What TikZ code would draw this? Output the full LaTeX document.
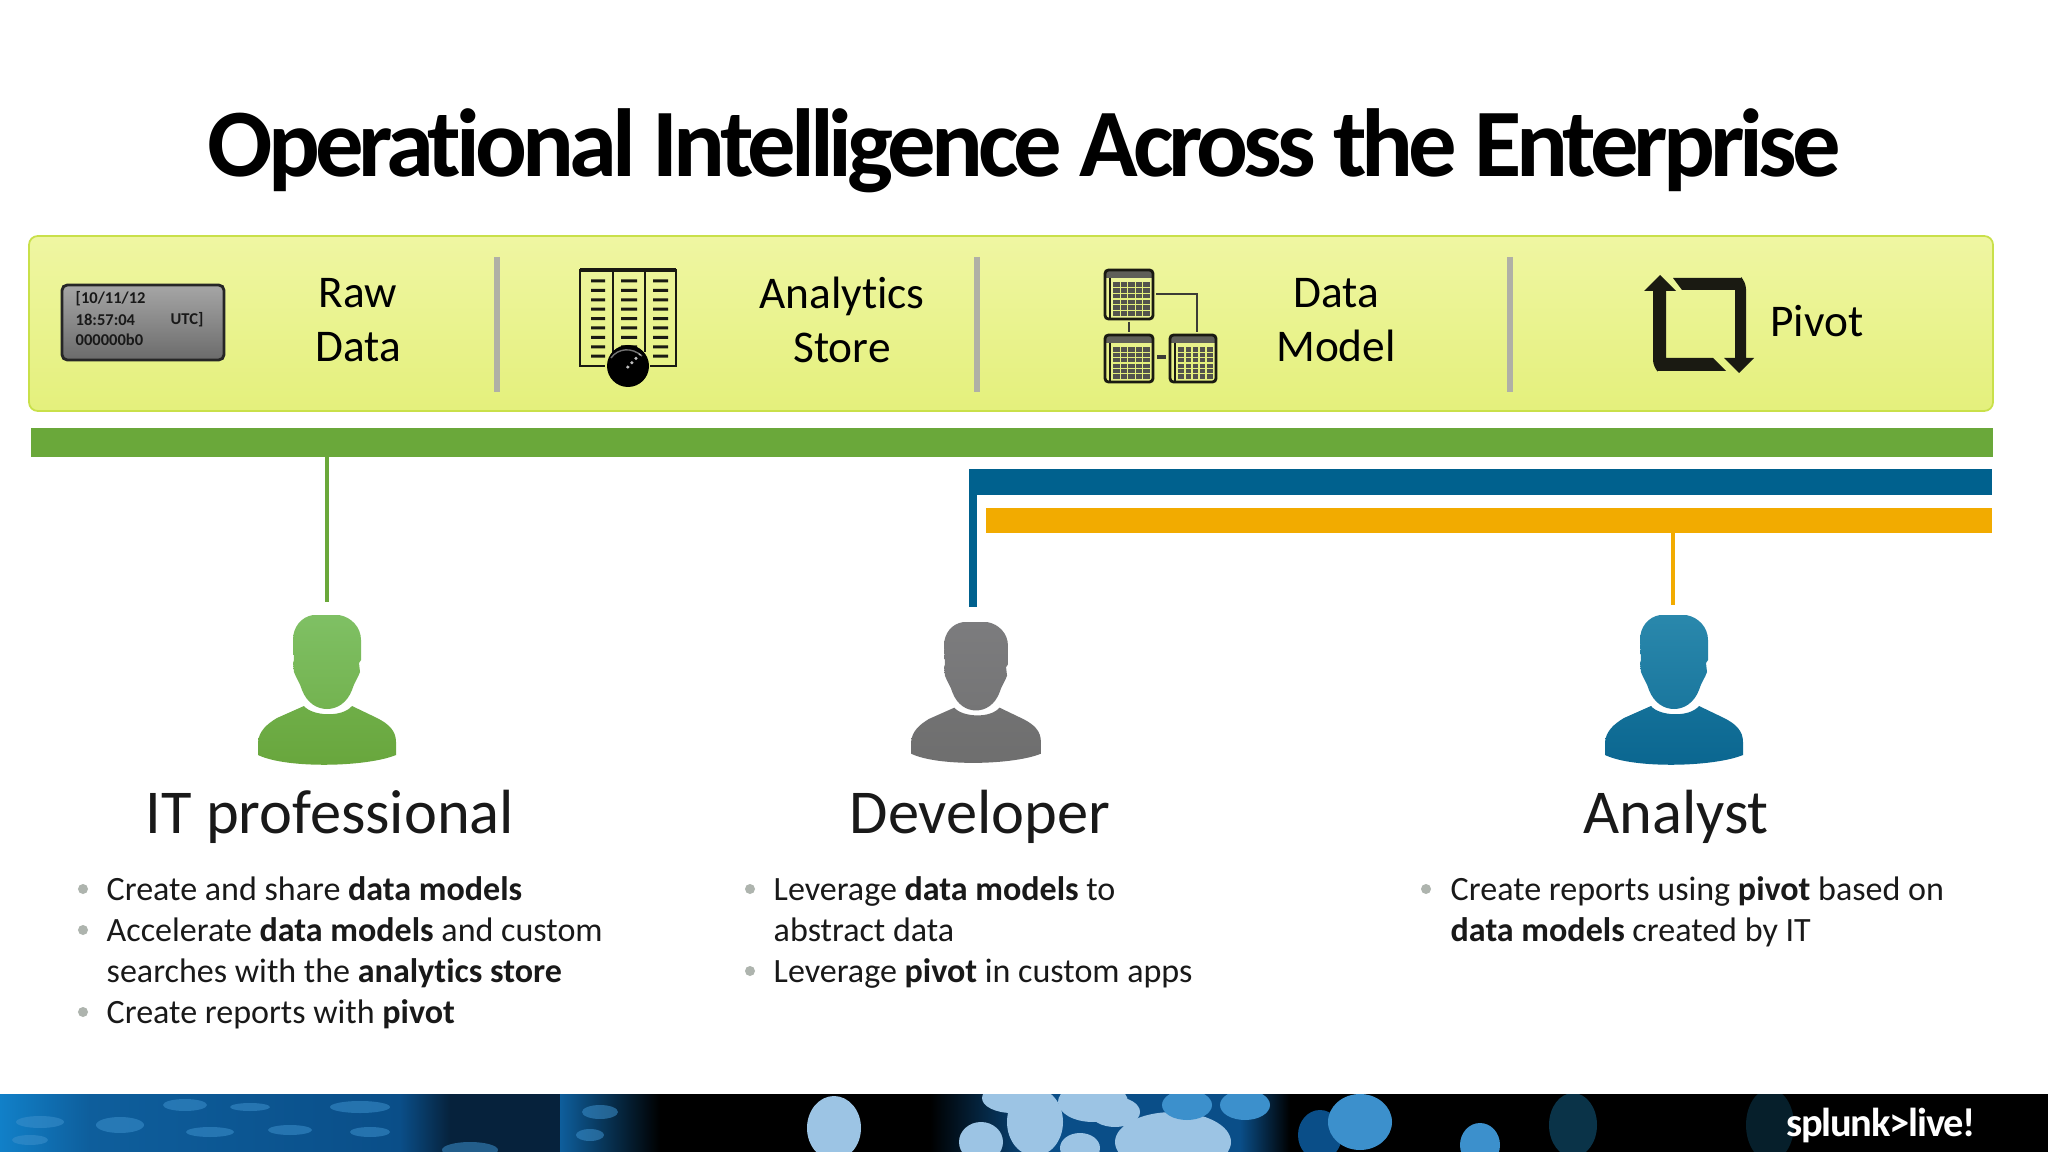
\documentclass[tikz,border=0pt]{standalone}
\usepackage{fontspec}
\setmainfont{Carlito}[Ligatures=NoCommon]
\usetikzlibrary{positioning}

\definecolor{barGreen}{HTML}{6AA83A}
\definecolor{barBlue}{HTML}{00618E}
\definecolor{barOrange}{HTML}{F2AB00}
\definecolor{divGray}{HTML}{B0B0A6}
\definecolor{panelTop}{HTML}{EFF6A2}
\definecolor{panelBot}{HTML}{E4F07C}
\definecolor{panelEdge}{HTML}{C9E04A}
\definecolor{iconBlack}{HTML}{1A1A12}
\definecolor{dotGray}{HTML}{AEB4AE}
\definecolor{itHead}{HTML}{7FC064}
\definecolor{itBody}{HTML}{68A63C}
\definecolor{devHead}{HTML}{7C7C7E}
\definecolor{devBody}{HTML}{6E6E6E}
\definecolor{anHead}{HTML}{2A88AC}
\definecolor{anBody}{HTML}{0A6690}
\definecolor{footDeep}{HTML}{06223C}
\definecolor{footBlue}{HTML}{0E5E9C}
\definecolor{footBright}{HTML}{1180C8}
\definecolor{footPale}{HTML}{9CC4E4}
\definecolor{footMid}{HTML}{3C90CC}
\definecolor{footGlow}{HTML}{0A4E88}
\definecolor{footDim}{HTML}{0A3348}

\tikzset{
    titletext/.style={font=\fontsize{27.5}{32}\bfseries\addfontfeatures{LetterSpace=-5.1}},
    steptext/.style={font=\fontsize{12.9}{11.7}\selectfont, align=center, text=black, inner sep=0},
    roletext/.style={font=\fontsize{17.75}{21}\selectfont, inner sep=0, text=black!90},
    bullettext/.style={font=\fontsize{9.68}{11.68}\selectfont, align=left, anchor=north west, inner sep=0, text=black!90},
    logtext/.style={font=\fontsize{4.7}{6}\bfseries, inner sep=0, anchor=west, text=black!90},
    bar/.style={minimum height=#1*0.01cm, inner sep=0, outer sep=0},
    divider/.style={line width=1.7pt, draw=divGray},
    link/.style={-, line width=1.15pt},
    dot/.style={circle, fill=dotGray, inner sep=0, minimum size=0.1cm},
}

% one person: x, y shift, scale, head colour, body colour
\newcommand{\person}[5]{
    \begin{scope}[shift={(#1,#2)}, scale=#3]
        \shade[top color=#4, bottom color=#4!50!#5]
            (-14,615) -- (12,615) .. controls (24,617) and (34,627) .. (34,640) -- (34,660) -- (32,663) -- (33,672)
            .. controls (31,678) and (27,683) .. (25,690) .. controls (20,703) and (10,709) .. (0,709)
            .. controls (-10,709) and (-20,703) .. (-25,690) .. controls (-27,683) and (-31,678) .. (-33,672)
            -- (-34,663) -- (-33,660) -- (-34,640) .. controls (-34,627) and (-26,617) .. (-14,615) -- cycle;
        \shade[top color=#4!30!#5, bottom color=#5]
            (-23,706) .. controls (-15,716) and (15,718) .. (25,706) -- (50,718)
            .. controls (62,724) and (69,731) .. (69,742) -- (69,755)
            .. controls (40,767) and (-40,769) .. (-69,755) -- (-69,742)
            .. controls (-68,731) and (-60,724) .. (-50,718) -- cycle;
    \end{scope}
}
% small table icon
\newcommand{\gridtable}[4]{
    \fill[iconBlack!70] (#1,#2) rectangle (#3,#2+8);
    \fill[iconBlack!75] (#1+8,#2+12) rectangle (#3-3,#4-3);
    \foreach \i in {1,...,4} \draw[panelBot, line width=.35pt] ({#1+8+\i*(#3-#1-11)/5},#2+12) -- ({#1+8+\i*(#3-#1-11)/5},#4-3);
    \foreach \i in {1,...,5} \draw[panelBot, line width=.35pt] (#1+8,{#2+12+\i*(#4-#2-15)/6}) -- (#3-3,{#2+12+\i*(#4-#2-15)/6});
    \draw[iconBlack, line width=.8pt, rounded corners=1] (#1,#2) rectangle (#3,#4);
    \draw[iconBlack, line width=.6pt] (#1+5,#2+8) -- (#1+5,#4);
}

\begin{document}
\begin{tikzpicture}[x=0.01cm, y=-0.01cm]
    \useasboundingbox (0,0) rectangle (2048,1152);
    \fill[white] (0,0) rectangle (2048,1152);

    \node[titletext](title) at (1024,151) {Operational Intelligence Across the Enterprise};

    % top panel
    \draw[panelEdge, line width=.5pt, rounded corners=2.5pt, top color=panelTop, bottom color=panelBot]
        (29,236) rectangle (1993,411);
    \draw[divider] (497,257) -- (497,392);
    \draw[divider] (977,257) -- (977,392);
    \draw[divider] (1510,257) -- (1510,392);

    \node[steptext](raw)   at (358,320)  {Raw\\[3.6pt]Data};
    \node[steptext](store) at (842,320)  {Analytics\\[3.6pt]Store};
    \node[steptext](model) at (1336,320) {Data\\[3.6pt]Model};
    \node[steptext](pivot) at (1817,321) {Pivot};

    % raw data icon
    \draw[black!85, line width=.8pt, rounded corners=1.5pt, top color=black!35, bottom color=black!58]
        (62,285) rectangle (224,360);
    \node[logtext](log1) at (75,299)  {[10/11/12};
    \node[logtext](log2) at (75,320)  {18:57:04};
    \node[logtext](log3) at (170,320) {UTC]};
    \node[logtext](log4) at (75,340)  {000000b0};

    % analytics store icon
    \draw[iconBlack, line width=.7pt] (580,270) rectangle (676,366);
    \draw[iconBlack, line width=1.2pt] (580,270) -- (676,270);
    \draw[iconBlack, line width=.8pt] (613,270) -- (613,352) (645,270) -- (645,352);
    \foreach \row in {0,...,8}
        \fill[iconBlack] (591,279.5+\row*9.4) rectangle (605,282.5+\row*9.4)
                         (621,279.5+\row*9.4) rectangle (637,282.5+\row*9.4)
                         (653,279.5+\row*9.4) rectangle (668,282.5+\row*9.4);
    \fill[panelBot] (605,360) rectangle (650,368);
    \fill[black] (628,366) circle (21);
    \draw[black!55, line width=.4pt] (611,358) .. controls (618,348) and (632,347) .. (642,356);
    \draw[black!25, line width=.7pt, densely dotted] (627,368) -- (640,354);

    % data model icon
    \gridtable{1105}{270}{1153}{319}
    \gridtable{1105}{335}{1153}{382}
    \gridtable{1170}{335}{1216}{382}
    \draw[iconBlack!85, line width=.5pt] (1156,294) -- (1197,294) -- (1197,332);
    \draw[iconBlack!85, line width=.5pt] (1129,322) -- (1129,332);
    \fill[iconBlack!85] (1157,355) rectangle (1166,359);

    % pivot icon
    \fill[iconBlack] (1660,275) -- (1676,291) -- (1666,291) -- (1666,358) -- (1713,358) -- (1726,371)
        -- (1657,371) [rounded corners=2] -- (1653,367) [sharp corners] -- (1653,291) -- (1644,291) -- cycle;
    \fill[iconBlack] (1673,278) -- (1742,278) [rounded corners=2] -- (1746,282) [sharp corners] -- (1746,358)
        -- (1754,358) -- (1739,373) -- (1724,358) -- (1735,358) -- (1735,290) -- (1682,290) -- cycle;

    % bars
    \node[bar=29, fill=barGreen, minimum width=19.60cm](greenbar) at (1012,442.5) {};
    \node[bar=26, fill=barBlue, minimum width=10.23cm](bluebar) at (1480.5,482) {};
    \node[bar=25, fill=barOrange, minimum width=10.06cm](orangebar) at (1489,520.5) {};

    \coordinate(itTop) at (327,602);
    \coordinate(devTop) at (973,607);
    \coordinate(anTop) at (1673,605);
    \path
        (greenbar.south -| itTop)
            edge [link, draw=barGreen] (itTop)
        (bluebar.south -| devTop)
            edge [-, draw=barBlue, line width=2.3pt] (devTop)
        (orangebar.south -| anTop)
            edge [link, draw=barOrange] (anTop)
        ;

    % people
    \person{327}{0}{1}{itHead}{itBody}
    \person{976}{44}{.94}{devHead}{devBody}
    \person{1674}{0}{1}{anHead}{anBody}

    \node[roletext](itrole)  at (330,817)  {IT professional};
    \node[roletext](devrole) at (980,817)  {Developer};
    \node[roletext](anrole)  at (1676,817) {Analyst};

    % bullet lists
    \foreach \name/\bx/\by in {a/83/889, b/83/930, c/83/1012, d/750/889, e/750/971, f/1426/889}
        \node[dot](dot\name) at (\bx,\by) {};
    \node[bullettext](itlist) at (106,876) {Create and share \textbf{data models}\\
        Accelerate \textbf{data models} and custom\\
        searches with the \textbf{analytics store}\\
        Create reports with \textbf{pivot}};
    \node[bullettext](devlist) at (773,876) {Leverage \textbf{data models} to\\
        abstract data\\
        Leverage \textbf{pivot} in custom apps};
    \node[bullettext](anlist) at (1450,876) {Create reports using \textbf{pivot} based on\\
        \textbf{data models} created by IT};

    % footer strip
    \begin{scope}
        \clip (0,1094) rectangle (2048,1152);
        \fill[black] (0,1094) rectangle (2048,1152);
        \shade[left color=footBright, right color=footBlue] (0,1094) rectangle (90,1152);
        \shade[left color=footBlue, right color=footGlow] (90,1094) rectangle (400,1152);
        \shade[left color=footGlow, right color=footDeep] (400,1094) rectangle (450,1152);
        \fill[footDeep] (450,1094) rectangle (560,1152);
        \shade[left color=footBlue, right color=black] (560,1094) rectangle (660,1152);
        % soft glyph marks
        \foreach \gx/\gy/\grx/\gry in {40/1122/24/6, 30/1140/18/5, 120/1125/24/8, 185/1105/22/6, 250/1107/20/4,
                360/1107/30/6, 210/1132/24/5, 290/1130/22/5, 370/1132/20/5, 600/1112/18/7, 590/1135/14/6, 470/1150/28/8}
            \fill[footMid, opacity=.55] (\gx,\gy) ellipse ({\grx} and {\gry});
        \shade[left color=black, right color=footGlow] (930,1094) rectangle (1040,1152);
        \fill[footGlow] (1040,1094) rectangle (1240,1152);
        \shade[left color=footGlow, right color=black] (1240,1094) rectangle (1290,1152);
        \fill[footGlow] (1320,1135) ellipse (22 and 25);
        \foreach \gx/\gy/\grx/\gry in {834/1128/27/32, 1035/1122/28/34, 1012/1098/30/15, 1093/1102/35/20,
                1115/1112/25/15, 1173/1142/58/30, 981/1142/22/20, 1080/1148/20/15}
            \fill[footPale] (\gx,\gy) ellipse ({\grx} and {\gry});
        \foreach \gx/\gy/\grx/\gry in {1187/1105/25/15, 1245/1105/25/15, 1360/1122/32/28, 1480/1145/20/22}
            \fill[footMid] (\gx,\gy) ellipse ({\grx} and {\gry});
        \fill[footDim] (1573,1125) ellipse (24 and 32);
        \fill[footDim!60!black] (1770,1125) ellipse (24 and 36);
    \end{scope}
    \node[font=\fontsize{11.5}{13}\bfseries\addfontfeatures{LetterSpace=-3}, text=white, inner sep=0](brand) at (1881,1125) {splunk>live!};
\end{tikzpicture}
\end{document}
